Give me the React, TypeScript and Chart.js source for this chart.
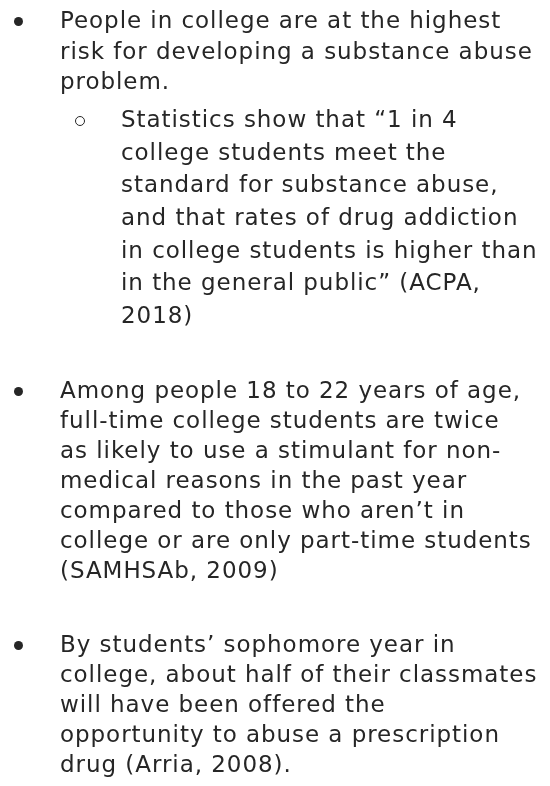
import React, { useEffect, useRef } from "react";
import { Chart, registerables } from "chart.js";

Chart.register(...registerables);

// Content (bulleted text, no numeric series in the reference)
const bullet1Lines = [
  "People in college are at the highest",
  "risk for developing a substance abuse",
  "problem.",
];
const bullet1SubLines = [
  "Statistics show that \u201C1 in 4",
  "college students meet the",
  "standard for substance abuse,",
  "and that rates of drug addiction",
  "in college students is higher than",
  "in the general public\u201D (ACPA,",
  "2018)",
];
const bullet2Lines = [
  "Among people 18 to 22 years of age,",
  "full-time college students are twice",
  "as likely to use a stimulant for non-",
  "medical reasons in the past year",
  "compared to those who aren\u2019t in",
  "college or are only part-time students",
  "(SAMHSAb, 2009)",
];
const bullet3Lines = [
  "By students\u2019 sophomore year in",
  "college, about half of their classmates",
  "will have been offered the",
  "opportunity to abuse a prescription",
  "drug (Arria, 2008).",
];

const FS = 23;
const LS = 0.95;
const FONT = "'DejaVu Sans', 'Open Sans', sans-serif";
const COLOR = "#262626";
const ASC = 0.928;
const DESC = 0.236;

const baselineOffset = (lh: number) => (lh - (ASC + DESC) * FS) / 2 + ASC * FS;

const Dot = ({ hollow, lh }: { hollow?: boolean; lh: number }) => {
  const d = hollow ? 10 : 9;
  const cy = baselineOffset(lh) - 6.5;
  return (
    <span
      style={{
        position: "absolute",
        left: hollow ? 80 - d / 2 : 18 - d / 2,
        top: cy - d / 2,
        width: d,
        height: d,
        borderRadius: "50%",
        boxSizing: "border-box",
        background: hollow ? "transparent" : COLOR,
        border: hollow ? `1.1px solid ${COLOR}` : "none",
      }}
    />
  );
};

const Block = ({
  lines,
  left,
  baseline,
  lh,
  hollow,
}: {
  lines: string[];
  left: number;
  baseline: number;
  lh: number;
  hollow?: boolean;
}) => (
  <div style={{ position: "absolute", left: 0, top: baseline - baselineOffset(lh), width: 550 }}>
    <Dot hollow={hollow} lh={lh} />
    {lines.map((t, i) => (
      <div
        key={i}
        style={{
          marginLeft: left,
          height: lh,
          lineHeight: `${lh}px`,
          whiteSpace: "nowrap",
          letterSpacing: LS,
        }}
      >
        {t}
      </div>
    ))}
  </div>
);

export default function App() {
  const canvasRef = useRef<HTMLCanvasElement | null>(null);

  useEffect(() => {
    if (!canvasRef.current) return;
    const chart = new Chart(canvasRef.current, {
      type: "scatter",
      data: { datasets: [{ data: [], pointRadius: 0 }] },
      options: {
        animation: false,
        responsive: false,
        events: [],
        plugins: { legend: { display: false }, tooltip: { enabled: false } },
        scales: { x: { display: false }, y: { display: false } },
      },
    });
    return () => chart.destroy();
  }, []);

  return (
    <div
      style={{
        position: "fixed",
        left: 0,
        top: 0,
        width: 550,
        height: 786,
        background: "#ffffff",
        overflow: "hidden",
      }}
    >
      <canvas
        ref={canvasRef}
        width={550}
        height={786}
        style={{ position: "absolute", left: 0, top: 0, width: 550, height: 786 }}
      />
      <div
        style={{
          position: "absolute",
          left: 0,
          top: 0,
          width: 550,
          height: 786,
          fontFamily: FONT,
          fontSize: FS,
          color: COLOR,
        }}
      >
        <Block lines={bullet1Lines} left={60} baseline={28.5} lh={30.5} />
        <Block lines={bullet1SubLines} left={121} baseline={127.5} lh={32.6} hollow />
        <Block lines={bullet2Lines} left={60} baseline={398} lh={30} />
        <Block lines={bullet3Lines} left={60} baseline={652} lh={30} />
      </div>
    </div>
  );
}
